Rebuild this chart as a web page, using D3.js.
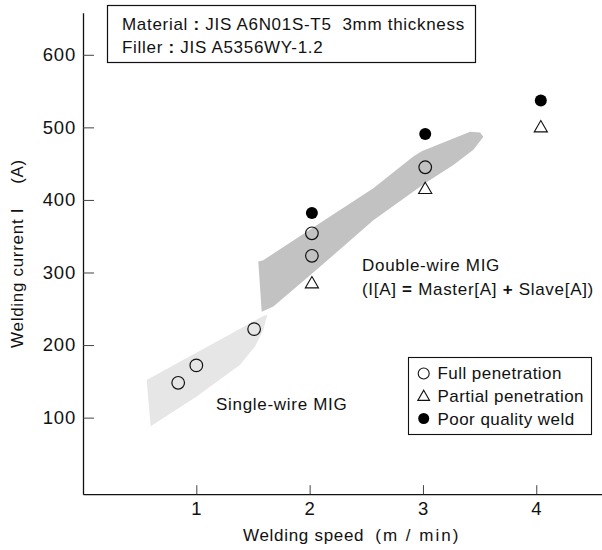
<!DOCTYPE html>
<html lang="en">
<head>
<meta charset="utf-8">
<script src="https://d3js.org/d3.v7.min.js"></script>
<title>Welding current vs welding speed</title>
<style>
  body { margin: 0; background: #fff; }
  svg { font-family: "Liberation Sans", Arial, sans-serif; }
  .axis text { font-size: 18.5px; fill: #111; letter-spacing: 0.8px; }
  .axis path { stroke: #111; stroke-width: 1.3px; }
  .axis line { stroke: #444; stroke-width: 1px; }
  .lbl { font-size: 17px; fill: #111; letter-spacing: 0.7px; }
  .leg { font-size: 17px; fill: #111; letter-spacing: 0.45px; }
</style>
</head>
<body>
<svg id="chart" width="602" height="550"></svg>
<script>
// data
const speedTicks = [1, 2, 3, 4];
const currentTicks = [100, 200, 300, 400, 500, 600];

// full penetration (open circle)
const fullSpeed = [0.84, 1.0, 1.51, 2.02, 2.02, 3.02];
const fullCurrent = [148, 172, 222, 323, 354, 445];
// partial penetration (triangle)
const partialSpeed = [2.02, 3.02, 4.04];
const partialCurrent = [284, 414, 499];
// poor quality weld (filled)
const poorSpeed = [2.02, 3.02, 4.04];
const poorCurrent = [382, 491, 537];

// shaded operating ranges, [speed, current] outline
const singleWire = [[0.562, 152], [0.597, 88], [1.003, 129], [1.386, 173], [1.518, 198],
  [1.591, 221], [1.627, 242], [1.577, 239]];
const doubleWire = [[1.577, 246], [1.547, 315], [1.591, 317], [1.974, 356], [2.562, 416],
  [2.915, 460], [2.989, 467], [3.416, 494], [3.504, 493], [3.533, 487], [3.445, 469],
  [3.268, 448], [3.018, 423], [2.562, 372], [2.063, 304], [1.680, 253]];

const legendItems = ["Full penetration", "Partial penetration", "Poor quality weld"];

let svg = d3.select("#chart");

let x = d3.scaleLinear().domain([0, 4.58]).range([83, 602]);
let y = d3.scaleLinear().domain([-5.5, 658]).range([494.2, 12.7]);

// regions
let line = d3.line().x(d => x(d[0])).y(d => y(d[1])).curve(d3.curveLinearClosed);
svg.append("path").attr("d", line(singleWire)).style("fill", "#e6e6e6");
svg.append("path").attr("d", line(doubleWire)).style("fill", "#c2c2c2");

// axes
svg.append("g").attr("class", "axis")
  .attr("transform", "translate(0,494.2)")
  .call(d3.axisBottom(x).tickValues(speedTicks).tickFormat(d3.format("d"))
    .tickSizeInner(-9).tickSizeOuter(0).tickPadding(8));
svg.append("g").attr("class", "axis")
  .attr("transform", "translate(83,0)")
  .call(d3.axisLeft(y).tickValues(currentTicks).tickSizeInner(-11).tickSizeOuter(0).tickPadding(7));

// axis titles
let xt = svg.append("text").attr("class", "lbl")
  .attr("x", 243).attr("y", 541);
xt.append("tspan").text("Welding speed");
xt.append("tspan").attr("dx", 11).style("letter-spacing", "2px").text("(m / min)");

let yt = svg.append("text").attr("class", "lbl")
  .attr("transform", "translate(23,253.5) rotate(-90)").attr("text-anchor", "middle");
yt.append("tspan").text("Welding current I");
yt.append("tspan").attr("dx", 24).text("(A)");

// region labels
svg.append("text").attr("class", "lbl").attr("x", 216).attr("y", 410).text("Single-wire MIG");
svg.append("text").attr("class", "lbl").attr("x", 362).attr("y", 271).text("Double-wire MIG");
let eq = svg.append("text").attr("class", "lbl").attr("x", 362).attr("y", 295);
eq.append("tspan").text("(I[A] ");
eq.append("tspan").style("font-weight", "bold").text("=");
eq.append("tspan").text(" Master[A] ");
eq.append("tspan").style("font-weight", "bold").text("+");
eq.append("tspan").text(" Slave[A])");

// header box
svg.append("rect").attr("x", 107.5).attr("y", 5.5).attr("width", 368).attr("height", 57)
  .style("fill", "white").style("stroke", "#111").style("stroke-width", 1.2);
let h1 = svg.append("text").attr("class", "lbl").attr("x", 122).attr("y", 30);
h1.append("tspan").text("Material ");
h1.append("tspan").style("font-weight", "bold").text(":");
h1.append("tspan").text(" JIS A6N01S-T5\u00a0 3mm thickness");
let h2 = svg.append("text").attr("class", "lbl").attr("x", 122).attr("y", 53);
h2.append("tspan").text("Filler ");
h2.append("tspan").style("font-weight", "bold").text(":");
h2.append("tspan").text(" JIS A5356WY-1.2");

// markers
let tri = d3.symbol().type(d3.symbolTriangle).size(75);
svg.append("g").selectAll("circle")
  .data(d3.range(fullSpeed.length))
  .join("circle")
  .attr("cx", i => x(fullSpeed[i])).attr("cy", i => y(fullCurrent[i]))
  .attr("r", 6.3).style("fill", "none").style("stroke", "#111").style("stroke-width", 1.2);
svg.append("g").selectAll("path")
  .data(d3.range(partialSpeed.length))
  .join("path")
  .attr("d", tri)
  .attr("transform", i => "translate(" + x(partialSpeed[i]) + "," + y(partialCurrent[i]) + ")")
  .style("fill", "white").style("stroke", "#111").style("stroke-width", 1.1);
svg.append("g").selectAll("circle")
  .data(d3.range(poorSpeed.length))
  .join("circle")
  .attr("cx", i => x(poorSpeed[i])).attr("cy", i => y(poorCurrent[i]))
  .attr("r", 6).style("fill", "#000");

// legend
let lg = svg.append("g");
lg.append("rect").attr("x", 408.5).attr("y", 357.5).attr("width", 183).attr("height", 77)
  .style("fill", "white").style("stroke", "#111").style("stroke-width", 1.1);
lg.selectAll("text")
  .data(legendItems)
  .join("text").attr("class", "leg")
  .attr("x", 437.5).attr("y", (d, i) => 379 + i * 23)
  .text(d => d);
lg.append("circle").attr("cx", 423.7).attr("cy", 373.5).attr("r", 5.5)
  .style("fill", "none").style("stroke", "#111").style("stroke-width", 1.1);
lg.append("path").attr("d", d3.symbol().type(d3.symbolTriangle).size(60))
  .attr("transform", "translate(423.7,397)")
  .style("fill", "white").style("stroke", "#111").style("stroke-width", 1.1);
lg.append("circle").attr("cx", 423.7).attr("cy", 418.5).attr("r", 5.5).style("fill", "#000");
</script>
</body>
</html>
